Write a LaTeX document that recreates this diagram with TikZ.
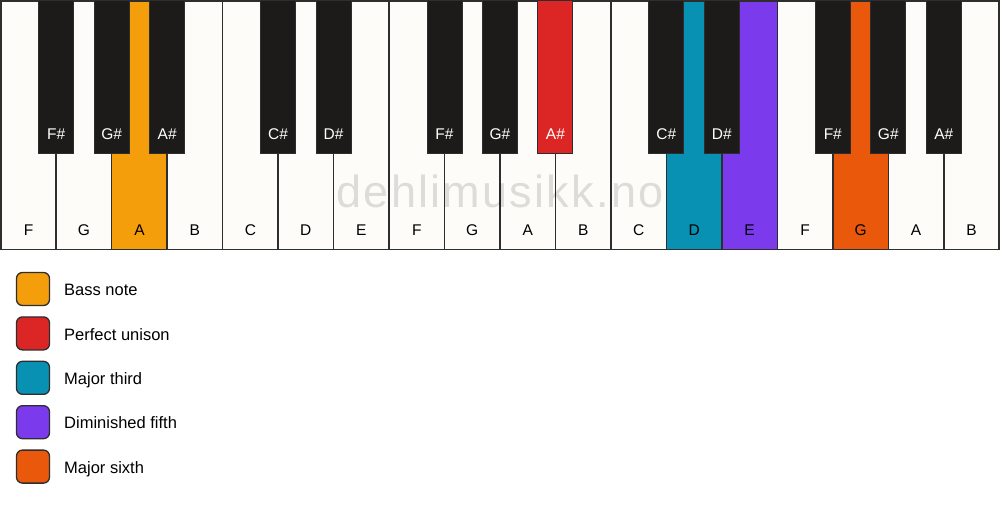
\documentclass[tikz,border=0pt]{standalone}
\usepackage{fontspec}
\setmainfont{Liberation Sans}
\newfontfamily\wmfont[LetterSpace=5.0]{Liberation Sans}
\usetikzlibrary{calc}
\definecolor{keywhite}{HTML}{FDFCF9}
\definecolor{keyblack}{HTML}{1C1B19}
\definecolor{keyline}{HTML}{2E2E2E}
\definecolor{cbass}{HTML}{F59E0B}
\definecolor{cunison}{HTML}{DC2626}
\definecolor{cthird}{HTML}{0891B2}
\definecolor{cfifth}{HTML}{7C3AED}
\definecolor{csixth}{HTML}{EA580C}
\tikzset{
  whitekey/.style={draw=keyline, line width=1.5pt, fill=keywhite, minimum width=55.47pt, minimum height=248.5pt, anchor=north west, inner sep=0pt, outer sep=0pt},
  blackkey/.style={draw=keyline, line width=1pt, fill=keyblack, minimum width=35pt, minimum height=153pt, anchor=north, inner sep=0pt, outer sep=0pt},
  wlabel/.style={font=\fontsize{15.5}{18}\selectfont, text=black, anchor=base, inner sep=0pt},
  blabel/.style={font=\fontsize{15.5}{18}\selectfont, text=white, anchor=base, inner sep=0pt},
  legbox/.style={draw=keyline, line width=1.3pt, rounded corners=6pt, minimum width=33pt, minimum height=33pt, inner sep=0pt},
  legtext/.style={font=\fontsize{16.5}{20}\selectfont, anchor=base west, inner sep=0pt}
}
\begin{document}
\begin{tikzpicture}[x=1pt,y=-1pt]
\useasboundingbox (0,0) rectangle (1000,506);
\fill[white] (0,0) rectangle (1000,506);
% white keys
\foreach \i/\n/\c in {0/F/keywhite,1/G/keywhite,2/A/cbass,3/B/keywhite,4/C/keywhite,5/D/keywhite,6/E/keywhite,7/F/keywhite,8/G/keywhite,9/A/keywhite,10/B/keywhite,11/C/keywhite,12/D/cthird,13/E/cfifth,14/F/keywhite,15/G/csixth,16/A/keywhite,17/B/keywhite}{
  \node[whitekey, fill=\c] (w\i) at ({0.75+\i*55.47},0.75) {};
  \node[wlabel] (wl\i) at ({0.75+(\i+0.5)*55.47},235.7) {\n};
}
% watermark
\node[font=\wmfont\fontsize{45}{50}\selectfont, text=black, text opacity=0.125, anchor=base, inner sep=0pt] (wm) at (500,207.5) {dehlimusikk.no};
% black keys
\foreach \i/\n/\c in {0/F\#/keyblack,1/G\#/keyblack,2/A\#/keyblack,4/C\#/keyblack,5/D\#/keyblack,7/F\#/keyblack,8/G\#/keyblack,9/A\#/cunison,11/C\#/keyblack,12/D\#/keyblack,14/F\#/keyblack,15/G\#/keyblack,16/A\#/keyblack}{
  \node[blackkey, fill=\c] (b\i) at ({0.75+(\i+1)*55.47},0) {};
  \node[blabel] (bl\i) at ({0.75+(\i+1)*55.47},139.3) {\n};
}
% legend
\foreach \k/\y/\c/\t in {1/289/cbass/Bass note,2/333.4/cunison/Perfect unison,3/377.8/cthird/Major third,4/422.2/cfifth/Diminished fifth,5/466.6/csixth/Major sixth}{
  \node[legbox, fill=\c] (lb\k) at (33,\y) {};
  \node[legtext] (lt\k) at (64,\y+6.6) {\t};
}
\end{tikzpicture}
\end{document}
